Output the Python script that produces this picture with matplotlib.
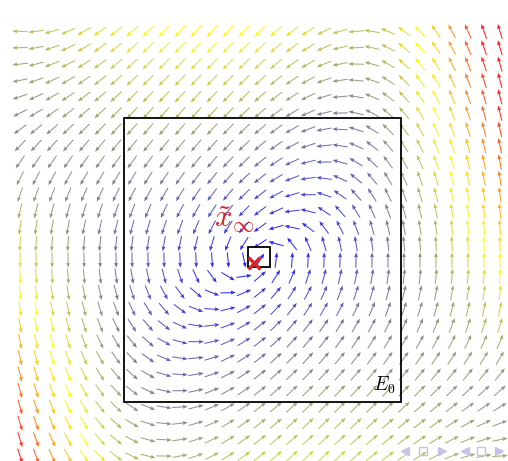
import numpy as np
import matplotlib.pyplot as plt
from matplotlib.colors import LinearSegmentedColormap
from matplotlib.patches import Rectangle

plt.rcParams['mathtext.fontset'] = 'cm'

# region E_0 and the small box around the limit point
box_E0 = [-1.0, -1.0, 2.0, 2.0]
box_small = [-0.105, -0.049, 0.159, 0.14]
x_limit = [-0.061, -0.021]
centre = [-0.032, 0.014]

# y' = sum of coef * monomial, x' = -y (coordinates relative to the centre)
monomials = ['x', 'y', 'x^2', 'xy', 'y^2', 'x^3', 'x^2y', 'xy^2', 'y^3']
coef = [0.779, -0.756, 0.067, 0.035, -0.053, 0.156, 0.810, 0.045, -0.046]
speed_max = 4.5

xs = np.arange(-1.75, 1.77, 0.1155)
ys = np.arange(-1.38, 1.72, 0.115)


def field(x, y):
    terms = [x, y, x * x, x * y, y * y, x**3, x * x * y, x * y * y, y**3]
    v = sum(c * t for c, t in zip(coef, terms))
    return -y, v


X, Y = np.meshgrid(xs, ys)
U, V = field(X - centre[0], Y - centre[1])
speed = np.hypot(U, V)

cmap = LinearSegmentedColormap.from_list('byr', ['blue', 'yellow', 'red'])

fig = plt.figure(figsize=(5.08, 4.61), dpi=100)
ax = fig.add_axes([0, 0, 1, 1])
ax.set_xlim(-1.895, 1.773)
ax.set_ylim(-1.415, 1.831)
ax.axis('off')

# normalised arrows, coloured by speed
ax.quiver(X, Y, U / speed, V / speed, speed, cmap=cmap, clim=(0, speed_max),
          angles='xy', scale_units='dots', scale=1 / 15.5, pivot='mid',
          units='dots', width=1.0, headwidth=4, headlength=5,
          headaxislength=4.5, alpha=0.9)

ax.add_patch(Rectangle(box_E0[:2], box_E0[2], box_E0[3], fill=False,
                       ec='black', lw=1.3, zorder=3))
ax.add_patch(Rectangle(box_small[:2], box_small[2], box_small[3], fill=False,
                       ec='black', lw=1.3, zorder=3))
ax.plot(*x_limit, marker='x', color='#dd2222', ms=9, mew=2.5, zorder=4)

ax.text(-0.2, 0.29, r'$\tilde{x}_\infty$', color='#dd2222', fontsize=22,
        ha='center', va='center', zorder=5)
ax.text(0.96, -0.88, r'$E_0$', color='black', fontsize=14,
        ha='right', va='center', zorder=5)

# navigation symbols in the corner
nav = '#c4c4e4'
for xf, m in [(0.797, '<'), (0.833, 's'), (0.871, '>'),
              (0.915, '<'), (0.946, 's'), (0.983, '>')]:
    ax.plot(xf, 0.022, marker=m, ms=6, mfc='none' if m == 's' else nav,
            mec=nav, transform=ax.transAxes, clip_on=False)

fig.savefig('out.png', dpi=100)
